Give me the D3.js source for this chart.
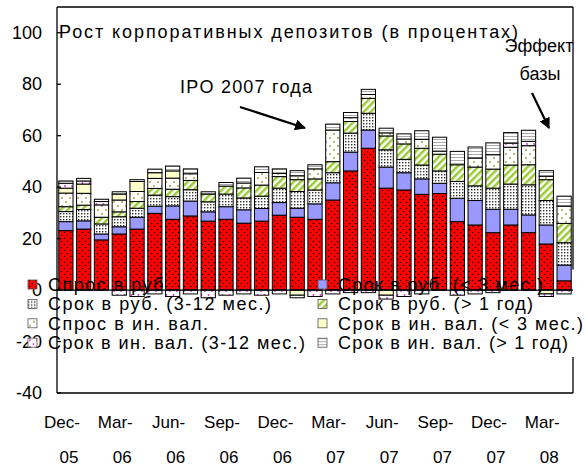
<!DOCTYPE html>
<html>
<head>
<meta charset="utf-8">
<script src="https://cdn.jsdelivr.net/npm/d3@7"></script>
<style>
  body { margin: 0; background: #fff; }
  svg text { font-family: "Liberation Sans", Arial, sans-serif; fill: #000; }
</style>
</head>
<body>
<div id="chart"></div>
<script>
// Months (one bar per month), quarterly tick labels.
var months = ['Dec-05', 'Jan-06', 'Feb-06', 'Mar-06', 'Apr-06', 'May-06', 'Jun-06', 'Jul-06',
  'Aug-06', 'Sep-06', 'Oct-06', 'Nov-06', 'Dec-06', 'Jan-07', 'Feb-07', 'Mar-07', 'Apr-07',
  'May-07', 'Jun-07', 'Jul-07', 'Aug-07', 'Sep-07', 'Oct-07', 'Nov-07', 'Dec-07', 'Jan-08',
  'Feb-08', 'Mar-08', 'Apr-08'];
var tickMonths = ['Dec-05', 'Mar-06', 'Jun-06', 'Sep-06', 'Dec-06', 'Mar-07', 'Jun-07', 'Sep-07', 'Dec-07', 'Mar-08'];
var yTicks = [-40, -20, 0, 20, 40, 60, 80, 100];

// Series values (percentage points contribution)
var demandRub = [23.1, 23.7, 19.5, 21.8, 23.7, 29.8, 27.5, 28.8, 26.8, 27.5, 26.0, 26.8, 29.1, 28.3,
  27.5, 35.0, 46.3, 55.1, 39.6, 38.9, 37.2, 37.5, 26.6, 25.3, 22.3, 25.3, 22.3, 17.9, 3.6];
var termRubShort = [3.5, 3.2, 2.3, 2.8, 4.6, 2.8, 5.2, 5.8, 3.6, 4.9, 5.2, 4.9, 4.9, 3.5,
  6.0, 6.7, 7.3, 7.1, 8.2, 6.7, 6.0, 4.0, 9.1, 9.5, 9.1, 6.1, 6.9, 7.4, 6.1];
var termRubMid = [3.9, 4.4, 3.9, 3.9, 3.5, 4.3, 3.6, 4.4, 3.9, 4.9, 4.6, 4.8, 5.6, 6.5,
  5.4, 3.9, 7.4, 6.5, 6.7, 5.2, 5.4, 4.8, 6.5, 5.7, 8.2, 9.8, 11.7, 9.5, 8.7];
var termRubLong = [1.9, 1.7, 2.6, 1.9, 2.6, 2.6, 2.9, 3.6, 3.0, 3.1, 3.9, 4.3, 4.5, 4.6,
  4.3, 4.3, 4.5, 5.8, 5.4, 6.0, 6.5, 6.5, 6.5, 7.3, 7.4, 7.4, 7.8, 8.1, 7.5];
var demandFx = [5.3, 4.6, 4.8, 4.6, 3.9, 3.9, 4.3, 2.6, 0, 0, 1.9, 4.9, 1.2, 1.5,
  3.9, 12.3, 1.5, 1.5, 1.2, 1.9, 3.5, 0, 0, 3.5, 5.6, 6.9, 7.4, 1.3, 6.7];
var termFxShort = [1.9, 3.6, 0, 2.3, 3.9, 2.2, 2.8, 0, 0, 0, 0, 0, 0, -2.0,
  0, 0, 0, 0, -2.0, 0, 0, 0, 0, 0, 0, 0, 0, -1.5, 0];
var termFxMid = [1.9, 1.2, 1.3, -2.0, -2.5, -1.5, -2.5, -1.5, -3.0, -2.0, -1.5, -2.0, -1.5, -1.0,
  -2.5, -1.5, -1.0, -1.0, -1.5, -2.5, -1.5, 1.2, -2.0, -1.5, -1.0, 1.6, 1.7, -1.0, -1.5];
var termFxLong = [0.9, 1.0, 0.9, 0.9, 0.7, 1.4, 1.9, 1.9, 0.9, 1.4, 1.9, 2.2, 1.8, 2.0,
  1.6, 2.3, 2.0, 2.0, 1.8, 2.0, 3.3, 5.4, 5.2, 4.3, 4.6, 4.1, 4.3, 2.2, 3.9];

var seriesNames = ['Спрос в руб.', 'Срок в руб. (< 3 мес.)', 'Срок в руб. (3-12 мес.)',
  'Срок в руб. (> 1 год)', 'Спрос в ин. вал.', 'Срок в ин. вал. (< 3 мес.)',
  'Срок в ин. вал. (3-12 мес.)', 'Срок в ин. вал. (> 1 год)'];
var seriesValues = [demandRub, termRubShort, termRubMid, termRubLong, demandFx, termFxShort, termFxMid, termFxLong];
var seriesFills = ['url(#p-red)', '#9999ff', 'url(#p-check)', 'url(#p-green)',
  'url(#p-olive)', '#ffffcc', 'url(#p-pink)', 'url(#p-grey)'];
// legend label widths (the original spreads its text)
var legendWidths = [122, 205, 223, 195, 160, 245, 257, 230];

var width = 585,
  height = 466,
  margin = {top: 7, right: 12, bottom: 73, left: 57};

// Build the table for d3.stack
var rows = months.map(function (m, i) {
  var row = {month: m};
  seriesNames.forEach(function (name, k) { row[name] = seriesValues[k][i]; });
  return row;
});

var stacked = d3.stack()
  .keys(seriesNames)
  .offset(d3.stackOffsetDiverging)(rows);

var x = d3.scaleBand()
  .domain(months)
  .range([margin.left, width - margin.right])
  .paddingInner(0.2)
  .paddingOuter(0.1);

var y = d3.scaleLinear()
  .domain([-40, 110])
  .range([height - margin.bottom, margin.top]);

var svg = d3.select('#chart').append('svg')
  .attr('width', width)
  .attr('height', height);

// Fill patterns
var defs = svg.append('defs');

var pRed = defs.append('pattern').attr('id', 'p-red')
  .attr('patternUnits', 'userSpaceOnUse').attr('width', 6).attr('height', 6);
pRed.append('rect').attr('width', 6).attr('height', 6).attr('fill', '#ff0000');
pRed.append('circle').attr('cx', 1.5).attr('cy', 1.5).attr('r', 0.75).attr('fill', '#000');
pRed.append('circle').attr('cx', 4.5).attr('cy', 4.5).attr('r', 0.75).attr('fill', '#000');

var pCheck = defs.append('pattern').attr('id', 'p-check')
  .attr('patternUnits', 'userSpaceOnUse').attr('width', 3).attr('height', 3);
pCheck.append('rect').attr('width', 3).attr('height', 3).attr('fill', '#fff');
pCheck.append('rect').attr('width', 1.4).attr('height', 1.4).attr('fill', '#333');

var pGreen = defs.append('pattern').attr('id', 'p-green')
  .attr('patternUnits', 'userSpaceOnUse').attr('width', 5).attr('height', 5)
  .attr('patternTransform', 'rotate(45)');
pGreen.append('rect').attr('width', 5).attr('height', 5).attr('fill', '#fff');
pGreen.append('rect').attr('width', 2.5).attr('height', 5).attr('fill', '#99cc33');

var pOlive = defs.append('pattern').attr('id', 'p-olive')
  .attr('patternUnits', 'userSpaceOnUse').attr('width', 8).attr('height', 8);
pOlive.append('rect').attr('width', 8).attr('height', 8).attr('fill', '#fff');
pOlive.append('circle').attr('cx', 2).attr('cy', 2).attr('r', 0.9).attr('fill', '#999933');
pOlive.append('circle').attr('cx', 6).attr('cy', 6).attr('r', 0.9).attr('fill', '#999933');

var pPink = defs.append('pattern').attr('id', 'p-pink')
  .attr('patternUnits', 'userSpaceOnUse').attr('width', 7).attr('height', 7);
pPink.append('rect').attr('width', 7).attr('height', 7).attr('fill', '#fff');
pPink.append('circle').attr('cx', 2).attr('cy', 4).attr('r', 0.9).attr('fill', '#cc33cc');
pPink.append('circle').attr('cx', 5.5).attr('cy', 1).attr('r', 0.9).attr('fill', '#cc33cc');

var pGrey = defs.append('pattern').attr('id', 'p-grey')
  .attr('patternUnits', 'userSpaceOnUse').attr('width', 4).attr('height', 3);
pGrey.append('rect').attr('width', 4).attr('height', 3).attr('fill', '#fff');
pGrey.append('rect').attr('y', 1).attr('width', 4).attr('height', 1).attr('fill', '#aaa');

// Tick labels on the value axis (drawn first, the legend covers some)
svg.append('g').selectAll('text')
  .data(yTicks)
  .enter().append('text')
  .attr('x', 42)
  .attr('y', function (d) { return y(d) + 6; })
  .attr('text-anchor', 'end')
  .style('font-size', '18px')
  .text(function (d) { return d; });

// Bars
svg.append('g').selectAll('g')
  .data(stacked)
  .enter().append('g')
  .attr('fill', function (d, i) { return seriesFills[i]; })
  .selectAll('rect')
  .data(function (d) { return d.filter(function (s) { return s[1] - s[0] !== 0; }); })
  .enter().append('rect')
  .attr('x', function (d) { return x(d.data.month); })
  .attr('y', function (d) { return y(d[1]); })
  .attr('width', x.bandwidth())
  .attr('height', function (d) { return y(d[0]) - y(d[1]); })
  .attr('stroke', '#000')
  .attr('stroke-width', 1);

// Frame and axes
var x0 = margin.left, x1 = width - margin.right;
var frame = svg.append('g').attr('stroke', '#000').attr('stroke-width', 1.3).attr('fill', 'none');
frame.append('line').attr('x1', x0).attr('x2', x1).attr('y1', y(110)).attr('y2', y(110));
frame.append('line').attr('x1', x0).attr('x2', x1).attr('y1', y(-40)).attr('y2', y(-40));
frame.append('line').attr('x1', x1).attr('x2', x1).attr('y1', y(110)).attr('y2', y(8));
frame.append('line').attr('x1', x1).attr('x2', x1).attr('y1', y(-26)).attr('y2', y(-40));
frame.append('line').attr('x1', x0).attr('x2', x0).attr('y1', y(110)).attr('y2', y(-40));
frame.append('line').attr('x1', x0).attr('x2', x1).attr('y1', y(0)).attr('y2', y(0));
frame.selectAll('line.tick')
  .data(yTicks)
  .enter().append('line')
  .attr('class', 'tick')
  .attr('x1', x0).attr('x2', x0 + 4)
  .attr('y1', function (d) { return y(d); })
  .attr('y2', function (d) { return y(d); });

// Category labels, two lines each
var catLabels = svg.append('g').selectAll('g')
  .data(tickMonths)
  .enter().append('g')
  .attr('transform', function (d) { return 'translate(' + (x(d) + x.bandwidth() / 2) + ',0)'; });
catLabels.append('text')
  .attr('x', -4).attr('y', 428)
  .attr('text-anchor', 'middle')
  .style('font-size', '17px')
  .text(function (d) { return d.split('-')[0] + '-'; });
catLabels.append('text')
  .attr('x', 3).attr('y', 463)
  .attr('text-anchor', 'middle')
  .style('font-size', '17px')
  .text(function (d) { return d.split('-')[1]; });

// Title and notes
svg.append('text')
  .attr('x', 59).attr('y', 38)
  .attr('textLength', 459).attr('lengthAdjust', 'spacing')
  .style('font-size', '18px')
  .text('Рост корпоративных депозитов (в процентах)');

svg.append('text')
  .attr('x', 180).attr('y', 93)
  .attr('textLength', 132).attr('lengthAdjust', 'spacing')
  .style('font-size', '18px')
  .text('IPO 2007 года');

svg.append('text')
  .attr('x', 539).attr('y', 52)
  .attr('text-anchor', 'middle')
  .style('font-size', '18px')
  .text('Эффект');
svg.append('text')
  .attr('x', 540).attr('y', 80)
  .attr('text-anchor', 'middle')
  .style('font-size', '18px')
  .text('базы');

defs.append('marker').attr('id', 'arrow')
  .attr('viewBox', '0 0 10 10').attr('refX', 9).attr('refY', 5)
  .attr('markerWidth', 5).attr('markerHeight', 5)
  .attr('orient', 'auto')
  .append('path').attr('d', 'M0,0L10,5L0,10z').attr('fill', '#000');

svg.append('line')
  .attr('x1', 240).attr('y1', 107).attr('x2', 305).attr('y2', 128)
  .attr('stroke', '#000').attr('stroke-width', 2.2)
  .attr('marker-end', 'url(#arrow)');
svg.append('line')
  .attr('x1', 532).attr('y1', 93).attr('x2', 549).attr('y2', 128)
  .attr('stroke', '#000').attr('stroke-width', 2.2)
  .attr('marker-end', 'url(#arrow)');

// Legend, two columns
var legend = svg.append('g').selectAll('g')
  .data(seriesNames)
  .enter().append('g')
  .attr('transform', function (d, i) {
    var col = i % 2, row = Math.floor(i / 2);
    return 'translate(' + (col ? 318 : 28) + ',' + (285 + row * 19.4) + ')';
  });
legend.append('rect')
  .attr('x', 0).attr('y', -5)
  .attr('width', 9).attr('height', 9)
  .attr('fill', function (d, i) { return seriesFills[i]; })
  .attr('stroke', '#555')
  .attr('stroke-width', 0.8);
legend.append('text')
  .attr('x', 20).attr('y', 6)
  .attr('textLength', function (d, i) { return legendWidths[i]; })
  .attr('lengthAdjust', 'spacing')
  .style('font-size', '18px')
  .text(function (d) { return d; });
</script>
</body>
</html>
